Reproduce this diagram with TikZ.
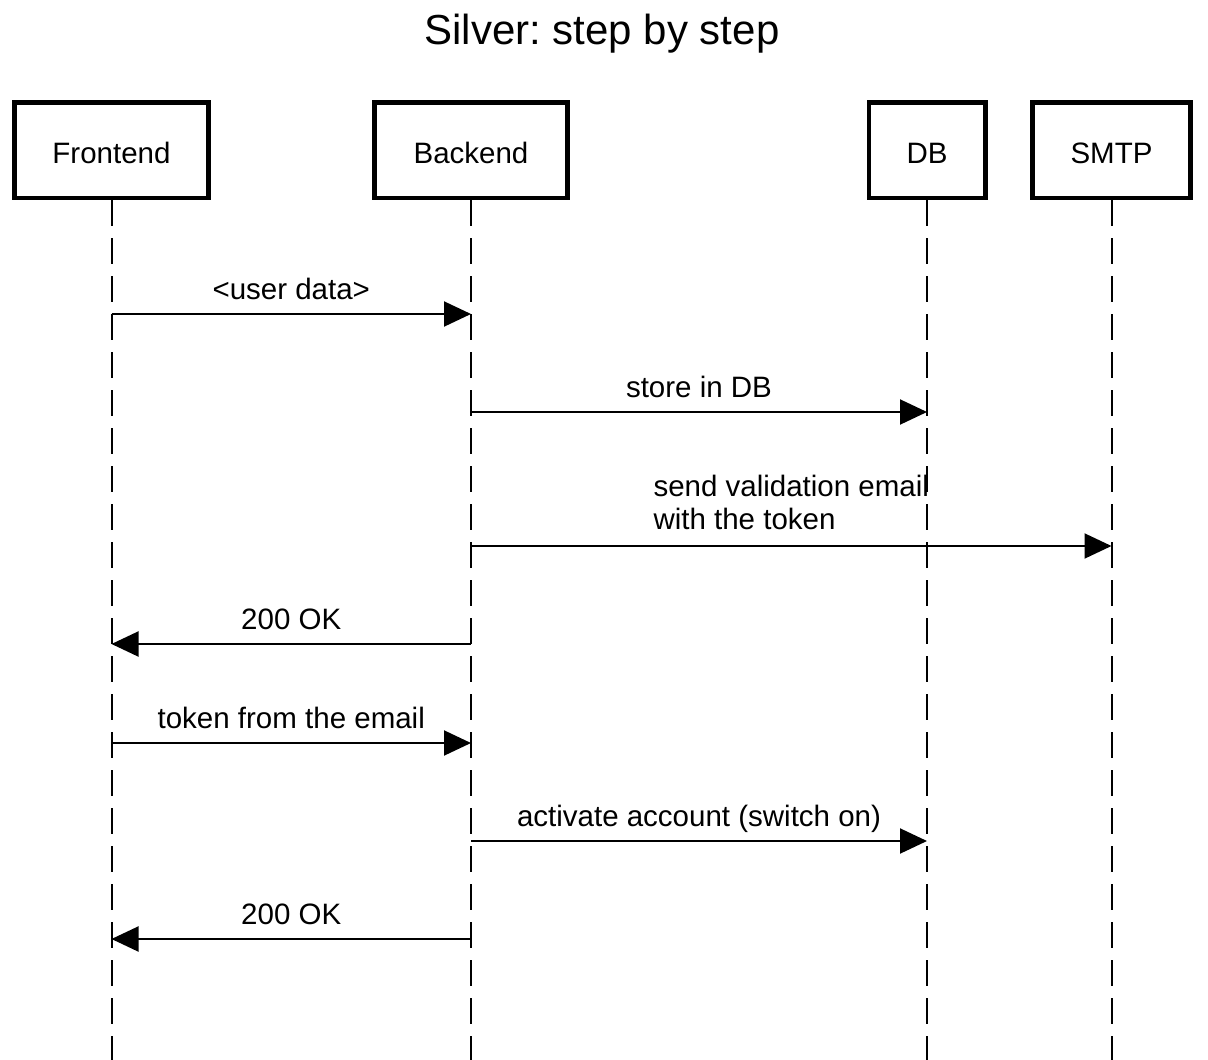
\documentclass[tikz,border=0pt]{standalone}
\usepackage{fontspec}
\setmainfont{Liberation Sans}
\usetikzlibrary{arrows.meta}
\frenchspacing
\begin{document}
\begin{tikzpicture}[x=1pt,y=-1pt,
  actor/.style={draw, line width=4.5pt, minimum width=#1, minimum height=95.5pt,
    inner sep=0pt, font=\fontsize{29.5}{34}\selectfont, text height=27pt, text depth=0pt},
  lifeline/.style={line width=2pt, dash pattern=on 26pt off 12pt},
  msg/.style={line width=2pt, -{Triangle[length=27pt,width=25pt]}},
  lbl/.style={anchor=base, yshift=15pt, inner sep=0pt, font=\fontsize{29.5}{33}\selectfont},
  lblml/.style={anchor=south, yshift=15pt, inner sep=0pt, align=left, font=\fontsize{29.5}{33}\selectfont}]
\useasboundingbox (0,0) rectangle (1208,1060);
\node[anchor=base, inner sep=0pt, font=\fontsize{42}{48}\selectfont] (title) at (602,44) {Silver: step by step};
\node[actor=194pt] (fe) at (111.5,150.25) {Frontend};
\node[actor=193pt] (be) at (471,150.25) {Backend};
\node[actor=116.5pt] (db) at (927,150.25) {DB};
\node[actor=158pt] (smtp) at (1111.5,150.25) {SMTP};
\coordinate (feend) at (fe |- 0,1062);
\coordinate (beend) at (be |- 0,1062);
\coordinate (dbend) at (db |- 0,1062);
\coordinate (smtpend) at (smtp |- 0,1062);
\draw[lifeline] (fe.south) -- (feend);
\draw[lifeline] (be.south) -- (beend);
\draw[lifeline] (db.south) -- (dbend);
\draw[lifeline] (smtp.south) -- (smtpend);
\draw[msg] (fe |- 0,314) -- node[lbl] {<user data>} (be |- 0,314);
\draw[msg] (be |- 0,412) -- node[lbl] {store in DB} (db |- 0,412);
\draw[msg] (be |- 0,546) -- node[lblml] {send validation email\\with the token} (smtp |- 0,546);
\draw[msg] (be |- 0,644) -- node[lbl] {200 OK} (fe |- 0,644);
\draw[msg] (fe |- 0,743) -- node[lbl] {token from the email} (be |- 0,743);
\draw[msg] (be |- 0,841) -- node[lbl] {activate account (switch on)} (db |- 0,841);
\draw[msg] (be |- 0,939) -- node[lbl] {200 OK} (fe |- 0,939);
\end{tikzpicture}
\end{document}
